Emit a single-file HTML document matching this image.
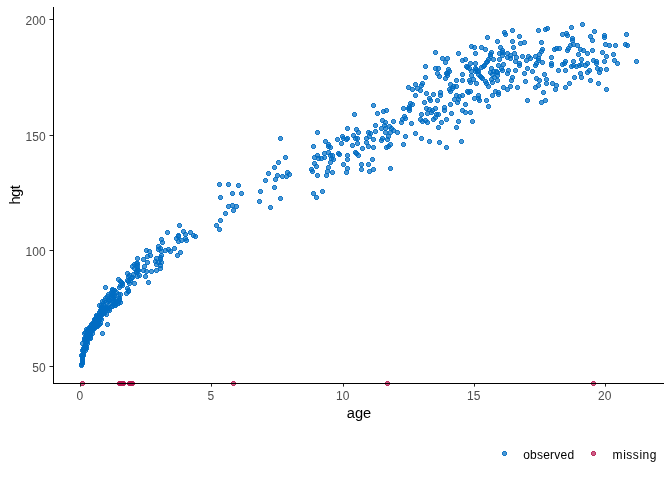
<!DOCTYPE html>
<html><head><meta charset="utf-8"><title>ggmice scatter</title>
<style>
html,body{margin:0;padding:0;background:#fff;}
svg{display:block;font-family:"Liberation Sans",sans-serif;}
.tk text{font-size:12px;fill:#4d4d4d;}
.ti{font-size:14.67px;fill:#000;}
.lg{font-size:12px;fill:#000;}
.ob circle{fill:#006CC2;fill-opacity:.7;stroke:#006CC2;stroke-opacity:.91;stroke-width:1;}
.mi circle{fill:#B61A51;fill-opacity:.7;stroke:#B61A51;stroke-opacity:.91;stroke-width:1;}
</style></head><body>
<svg width="672" height="480" viewBox="0 0 672 480">
<rect width="672" height="480" fill="#fff"/>
<g class="ob" shape-rendering="crispEdges"><circle cx="105.5" cy="287.5" r="1.95"/><circle cx="118.5" cy="279.5" r="1.95"/><circle cx="121.5" cy="282.5" r="1.95"/><circle cx="119.5" cy="287.5" r="1.95"/><circle cx="122.5" cy="285.5" r="1.95"/><circle cx="112.5" cy="289.5" r="1.95"/><circle cx="113.5" cy="292.5" r="1.95"/><circle cx="108.5" cy="294.5" r="1.95"/><circle cx="120.5" cy="294.5" r="1.95"/><circle cx="114.5" cy="296.5" r="1.95"/><circle cx="111.5" cy="298.5" r="1.95"/><circle cx="104.5" cy="300.5" r="1.95"/><circle cx="108.5" cy="301.5" r="1.95"/><circle cx="113.5" cy="301.5" r="1.95"/><circle cx="117.5" cy="303.5" r="1.95"/><circle cx="120.5" cy="302.5" r="1.95"/><circle cx="99.5" cy="305.5" r="1.95"/><circle cx="103.5" cy="305.5" r="1.95"/><circle cx="111.5" cy="306.5" r="1.95"/><circle cx="114.5" cy="305.5" r="1.95"/><circle cx="101.5" cy="308.5" r="1.95"/><circle cx="105.5" cy="308.5" r="1.95"/><circle cx="109.5" cy="308.5" r="1.95"/><circle cx="126.5" cy="293.5" r="1.95"/><circle cx="127.5" cy="288.5" r="1.95"/><circle cx="128.5" cy="291.5" r="1.95"/><circle cx="134.5" cy="283.5" r="1.95"/><circle cx="129.5" cy="283.5" r="1.95"/><circle cx="127.5" cy="280.5" r="1.95"/><circle cx="127.5" cy="273.5" r="1.95"/><circle cx="129.5" cy="275.5" r="1.95"/><circle cx="131.5" cy="278.5" r="1.95"/><circle cx="133.5" cy="274.5" r="1.95"/><circle cx="136.5" cy="272.5" r="1.95"/><circle cx="137.5" cy="276.5" r="1.95"/><circle cx="139.5" cy="275.5" r="1.95"/><circle cx="132.5" cy="266.5" r="1.95"/><circle cx="136.5" cy="263.5" r="1.95"/><circle cx="137.5" cy="265.5" r="1.95"/><circle cx="134.5" cy="268.5" r="1.95"/><circle cx="137.5" cy="270.5" r="1.95"/><circle cx="137.5" cy="258.5" r="1.95"/><circle cx="143.5" cy="259.5" r="1.95"/><circle cx="147.5" cy="256.5" r="1.95"/><circle cx="147.5" cy="262.5" r="1.95"/><circle cx="150.5" cy="255.5" r="1.95"/><circle cx="144.5" cy="266.5" r="1.95"/><circle cx="143.5" cy="270.5" r="1.95"/><circle cx="146.5" cy="271.5" r="1.95"/><circle cx="151.5" cy="271.5" r="1.95"/><circle cx="156.5" cy="270.5" r="1.95"/><circle cx="145.5" cy="276.5" r="1.95"/><circle cx="148.5" cy="282.5" r="1.95"/><circle cx="156.5" cy="258.5" r="1.95"/><circle cx="155.5" cy="261.5" r="1.95"/><circle cx="158.5" cy="262.5" r="1.95"/><circle cx="160.5" cy="265.5" r="1.95"/><circle cx="160.5" cy="268.5" r="1.95"/><circle cx="156.5" cy="264.5" r="1.95"/><circle cx="161.5" cy="255.5" r="1.95"/><circle cx="161.5" cy="251.5" r="1.95"/><circle cx="149.5" cy="251.5" r="1.95"/><circle cx="146.5" cy="250.5" r="1.95"/><circle cx="177.5" cy="255.5" r="1.95"/><circle cx="179.5" cy="225.5" r="1.95"/><circle cx="167.5" cy="232.5" r="1.95"/><circle cx="183.5" cy="231.5" r="1.95"/><circle cx="185.5" cy="234.5" r="1.95"/><circle cx="178.5" cy="235.5" r="1.95"/><circle cx="176.5" cy="238.5" r="1.95"/><circle cx="178.5" cy="241.5" r="1.95"/><circle cx="181.5" cy="240.5" r="1.95"/><circle cx="185.5" cy="238.5" r="1.95"/><circle cx="186.5" cy="240.5" r="1.95"/><circle cx="190.5" cy="232.5" r="1.95"/><circle cx="193.5" cy="235.5" r="1.95"/><circle cx="195.5" cy="236.5" r="1.95"/><circle cx="161.5" cy="239.5" r="1.95"/><circle cx="162.5" cy="242.5" r="1.95"/><circle cx="158.5" cy="246.5" r="1.95"/><circle cx="158.5" cy="249.5" r="1.95"/><circle cx="160.5" cy="248.5" r="1.95"/><circle cx="165.5" cy="250.5" r="1.95"/><circle cx="168.5" cy="249.5" r="1.95"/><circle cx="170.5" cy="251.5" r="1.95"/><circle cx="174.5" cy="248.5" r="1.95"/><circle cx="180.5" cy="252.5" r="1.95"/><circle cx="160.5" cy="257.5" r="1.95"/><circle cx="216.5" cy="225.5" r="1.95"/><circle cx="219.5" cy="229.5" r="1.95"/><circle cx="220.5" cy="220.5" r="1.95"/><circle cx="225.5" cy="213.5" r="1.95"/><circle cx="228.5" cy="206.5" r="1.95"/><circle cx="232.5" cy="205.5" r="1.95"/><circle cx="236.5" cy="206.5" r="1.95"/><circle cx="233.5" cy="210.5" r="1.95"/><circle cx="219.5" cy="184.5" r="1.95"/><circle cx="228.5" cy="184.5" r="1.95"/><circle cx="238.5" cy="185.5" r="1.95"/><circle cx="232.5" cy="193.5" r="1.95"/><circle cx="241.5" cy="193.5" r="1.95"/><circle cx="220.5" cy="197.5" r="1.95"/><circle cx="260.5" cy="191.5" r="1.95"/><circle cx="259.5" cy="201.5" r="1.95"/><circle cx="265.5" cy="180.5" r="1.95"/><circle cx="268.5" cy="173.5" r="1.95"/><circle cx="274.5" cy="167.5" r="1.95"/><circle cx="278.5" cy="162.5" r="1.95"/><circle cx="285.5" cy="157.5" r="1.95"/><circle cx="275.5" cy="179.5" r="1.95"/><circle cx="277.5" cy="175.5" r="1.95"/><circle cx="282.5" cy="176.5" r="1.95"/><circle cx="286.5" cy="176.5" r="1.95"/><circle cx="287.5" cy="172.5" r="1.95"/><circle cx="289.5" cy="174.5" r="1.95"/><circle cx="274.5" cy="187.5" r="1.95"/><circle cx="280.5" cy="198.5" r="1.95"/><circle cx="270.5" cy="207.5" r="1.95"/><circle cx="354.5" cy="114.5" r="1.95"/><circle cx="317.5" cy="132.5" r="1.95"/><circle cx="347.5" cy="128.5" r="1.95"/><circle cx="356.5" cy="129.5" r="1.95"/><circle cx="358.5" cy="132.5" r="1.95"/><circle cx="353.5" cy="135.5" r="1.95"/><circle cx="355.5" cy="138.5" r="1.95"/><circle cx="357.5" cy="138.5" r="1.95"/><circle cx="357.5" cy="143.5" r="1.95"/><circle cx="352.5" cy="145.5" r="1.95"/><circle cx="342.5" cy="136.5" r="1.95"/><circle cx="343.5" cy="138.5" r="1.95"/><circle cx="346.5" cy="139.5" r="1.95"/><circle cx="347.5" cy="138.5" r="1.95"/><circle cx="337.5" cy="139.5" r="1.95"/><circle cx="341.5" cy="143.5" r="1.95"/><circle cx="325.5" cy="141.5" r="1.95"/><circle cx="328.5" cy="144.5" r="1.95"/><circle cx="328.5" cy="146.5" r="1.95"/><circle cx="330.5" cy="147.5" r="1.95"/><circle cx="313.5" cy="146.5" r="1.95"/><circle cx="324.5" cy="153.5" r="1.95"/><circle cx="328.5" cy="152.5" r="1.95"/><circle cx="317.5" cy="155.5" r="1.95"/><circle cx="314.5" cy="157.5" r="1.95"/><circle cx="318.5" cy="158.5" r="1.95"/><circle cx="321.5" cy="158.5" r="1.95"/><circle cx="324.5" cy="157.5" r="1.95"/><circle cx="330.5" cy="155.5" r="1.95"/><circle cx="332.5" cy="155.5" r="1.95"/><circle cx="331.5" cy="158.5" r="1.95"/><circle cx="333.5" cy="159.5" r="1.95"/><circle cx="330.5" cy="162.5" r="1.95"/><circle cx="314.5" cy="163.5" r="1.95"/><circle cx="316.5" cy="166.5" r="1.95"/><circle cx="328.5" cy="167.5" r="1.95"/><circle cx="338.5" cy="153.5" r="1.95"/><circle cx="339.5" cy="154.5" r="1.95"/><circle cx="347.5" cy="155.5" r="1.95"/><circle cx="347.5" cy="159.5" r="1.95"/><circle cx="343.5" cy="164.5" r="1.95"/><circle cx="347.5" cy="168.5" r="1.95"/><circle cx="355.5" cy="152.5" r="1.95"/><circle cx="356.5" cy="153.5" r="1.95"/><circle cx="358.5" cy="155.5" r="1.95"/><circle cx="362.5" cy="148.5" r="1.95"/><circle cx="361.5" cy="164.5" r="1.95"/><circle cx="361.5" cy="169.5" r="1.95"/><circle cx="366.5" cy="138.5" r="1.95"/><circle cx="366.5" cy="142.5" r="1.95"/><circle cx="368.5" cy="146.5" r="1.95"/><circle cx="311.5" cy="169.5" r="1.95"/><circle cx="312.5" cy="171.5" r="1.95"/><circle cx="317.5" cy="175.5" r="1.95"/><circle cx="327.5" cy="171.5" r="1.95"/><circle cx="332.5" cy="172.5" r="1.95"/><circle cx="326.5" cy="175.5" r="1.95"/><circle cx="346.5" cy="172.5" r="1.95"/><circle cx="313.5" cy="193.5" r="1.95"/><circle cx="316.5" cy="197.5" r="1.95"/><circle cx="322.5" cy="191.5" r="1.95"/><circle cx="375.5" cy="125.5" r="1.95"/><circle cx="375.5" cy="131.5" r="1.95"/><circle cx="368.5" cy="132.5" r="1.95"/><circle cx="370.5" cy="133.5" r="1.95"/><circle cx="369.5" cy="136.5" r="1.95"/><circle cx="373.5" cy="139.5" r="1.95"/><circle cx="373.5" cy="147.5" r="1.95"/><circle cx="372.5" cy="159.5" r="1.95"/><circle cx="368.5" cy="164.5" r="1.95"/><circle cx="369.5" cy="171.5" r="1.95"/><circle cx="373.5" cy="169.5" r="1.95"/><circle cx="390.5" cy="168.5" r="1.95"/><circle cx="382.5" cy="120.5" r="1.95"/><circle cx="385.5" cy="122.5" r="1.95"/><circle cx="384.5" cy="125.5" r="1.95"/><circle cx="381.5" cy="128.5" r="1.95"/><circle cx="385.5" cy="128.5" r="1.95"/><circle cx="389.5" cy="126.5" r="1.95"/><circle cx="391.5" cy="128.5" r="1.95"/><circle cx="393.5" cy="130.5" r="1.95"/><circle cx="385.5" cy="132.5" r="1.95"/><circle cx="390.5" cy="132.5" r="1.95"/><circle cx="388.5" cy="136.5" r="1.95"/><circle cx="382.5" cy="138.5" r="1.95"/><circle cx="381.5" cy="140.5" r="1.95"/><circle cx="387.5" cy="139.5" r="1.95"/><circle cx="390.5" cy="144.5" r="1.95"/><circle cx="386.5" cy="147.5" r="1.95"/><circle cx="388.5" cy="146.5" r="1.95"/><circle cx="393.5" cy="121.5" r="1.95"/><circle cx="397.5" cy="132.5" r="1.95"/><circle cx="401.5" cy="122.5" r="1.95"/><circle cx="405.5" cy="136.5" r="1.95"/><circle cx="403.5" cy="144.5" r="1.95"/><circle cx="411.5" cy="123.5" r="1.95"/><circle cx="415.5" cy="133.5" r="1.95"/><circle cx="421.5" cy="138.5" r="1.95"/><circle cx="429.5" cy="141.5" r="1.95"/><circle cx="439.5" cy="142.5" r="1.95"/><circle cx="438.5" cy="127.5" r="1.95"/><circle cx="427.5" cy="122.5" r="1.95"/><circle cx="441.5" cy="122.5" r="1.95"/><circle cx="373.5" cy="105.5" r="1.95"/><circle cx="377.5" cy="113.5" r="1.95"/><circle cx="383.5" cy="111.5" r="1.95"/><circle cx="386.5" cy="110.5" r="1.95"/><circle cx="403.5" cy="108.5" r="1.95"/><circle cx="408.5" cy="108.5" r="1.95"/><circle cx="409.5" cy="110.5" r="1.95"/><circle cx="410.5" cy="103.5" r="1.95"/><circle cx="412.5" cy="104.5" r="1.95"/><circle cx="404.5" cy="116.5" r="1.95"/><circle cx="405.5" cy="118.5" r="1.95"/><circle cx="402.5" cy="119.5" r="1.95"/><circle cx="408.5" cy="87.5" r="1.95"/><circle cx="412.5" cy="89.5" r="1.95"/><circle cx="415.5" cy="84.5" r="1.95"/><circle cx="417.5" cy="88.5" r="1.95"/><circle cx="420.5" cy="90.5" r="1.95"/><circle cx="421.5" cy="85.5" r="1.95"/><circle cx="422.5" cy="83.5" r="1.95"/><circle cx="415.5" cy="95.5" r="1.95"/><circle cx="425.5" cy="77.5" r="1.95"/><circle cx="425.5" cy="66.5" r="1.95"/><circle cx="435.5" cy="68.5" r="1.95"/><circle cx="438.5" cy="68.5" r="1.95"/><circle cx="437.5" cy="73.5" r="1.95"/><circle cx="439.5" cy="76.5" r="1.95"/><circle cx="426.5" cy="93.5" r="1.95"/><circle cx="433.5" cy="94.5" r="1.95"/><circle cx="440.5" cy="92.5" r="1.95"/><circle cx="440.5" cy="95.5" r="1.95"/><circle cx="429.5" cy="98.5" r="1.95"/><circle cx="430.5" cy="100.5" r="1.95"/><circle cx="424.5" cy="102.5" r="1.95"/><circle cx="437.5" cy="100.5" r="1.95"/><circle cx="426.5" cy="108.5" r="1.95"/><circle cx="429.5" cy="109.5" r="1.95"/><circle cx="432.5" cy="110.5" r="1.95"/><circle cx="435.5" cy="108.5" r="1.95"/><circle cx="427.5" cy="113.5" r="1.95"/><circle cx="431.5" cy="112.5" r="1.95"/><circle cx="421.5" cy="114.5" r="1.95"/><circle cx="436.5" cy="114.5" r="1.95"/><circle cx="438.5" cy="114.5" r="1.95"/><circle cx="435.5" cy="117.5" r="1.95"/><circle cx="433.5" cy="119.5" r="1.95"/><circle cx="420.5" cy="119.5" r="1.95"/><circle cx="422.5" cy="121.5" r="1.95"/><circle cx="425.5" cy="120.5" r="1.95"/><circle cx="446.5" cy="73.5" r="1.95"/><circle cx="449.5" cy="71.5" r="1.95"/><circle cx="447.5" cy="75.5" r="1.95"/><circle cx="445.5" cy="78.5" r="1.95"/><circle cx="462.5" cy="74.5" r="1.95"/><circle cx="456.5" cy="80.5" r="1.95"/><circle cx="462.5" cy="80.5" r="1.95"/><circle cx="450.5" cy="84.5" r="1.95"/><circle cx="453.5" cy="86.5" r="1.95"/><circle cx="456.5" cy="86.5" r="1.95"/><circle cx="449.5" cy="89.5" r="1.95"/><circle cx="452.5" cy="88.5" r="1.95"/><circle cx="450.5" cy="91.5" r="1.95"/><circle cx="456.5" cy="95.5" r="1.95"/><circle cx="459.5" cy="96.5" r="1.95"/><circle cx="462.5" cy="95.5" r="1.95"/><circle cx="454.5" cy="99.5" r="1.95"/><circle cx="458.5" cy="99.5" r="1.95"/><circle cx="457.5" cy="102.5" r="1.95"/><circle cx="450.5" cy="104.5" r="1.95"/><circle cx="444.5" cy="107.5" r="1.95"/><circle cx="444.5" cy="110.5" r="1.95"/><circle cx="465.5" cy="104.5" r="1.95"/><circle cx="462.5" cy="110.5" r="1.95"/><circle cx="465.5" cy="112.5" r="1.95"/><circle cx="470.5" cy="112.5" r="1.95"/><circle cx="451.5" cy="113.5" r="1.95"/><circle cx="446.5" cy="119.5" r="1.95"/><circle cx="458.5" cy="121.5" r="1.95"/><circle cx="456.5" cy="127.5" r="1.95"/><circle cx="472.5" cy="121.5" r="1.95"/><circle cx="467.5" cy="91.5" r="1.95"/><circle cx="470.5" cy="91.5" r="1.95"/><circle cx="474.5" cy="98.5" r="1.95"/><circle cx="478.5" cy="95.5" r="1.95"/><circle cx="478.5" cy="98.5" r="1.95"/><circle cx="479.5" cy="100.5" r="1.95"/><circle cx="486.5" cy="100.5" r="1.95"/><circle cx="488.5" cy="106.5" r="1.95"/><circle cx="492.5" cy="95.5" r="1.95"/><circle cx="495.5" cy="91.5" r="1.95"/><circle cx="498.5" cy="92.5" r="1.95"/><circle cx="498.5" cy="94.5" r="1.95"/><circle cx="503.5" cy="87.5" r="1.95"/><circle cx="507.5" cy="89.5" r="1.95"/><circle cx="510.5" cy="86.5" r="1.95"/><circle cx="517.5" cy="87.5" r="1.95"/><circle cx="511.5" cy="80.5" r="1.95"/><circle cx="512.5" cy="77.5" r="1.95"/><circle cx="507.5" cy="73.5" r="1.95"/><circle cx="502.5" cy="70.5" r="1.95"/><circle cx="515.5" cy="70.5" r="1.95"/><circle cx="497.5" cy="80.5" r="1.95"/><circle cx="492.5" cy="82.5" r="1.95"/><circle cx="491.5" cy="79.5" r="1.95"/><circle cx="494.5" cy="77.5" r="1.95"/><circle cx="497.5" cy="75.5" r="1.95"/><circle cx="492.5" cy="74.5" r="1.95"/><circle cx="490.5" cy="72.5" r="1.95"/><circle cx="493.5" cy="71.5" r="1.95"/><circle cx="497.5" cy="72.5" r="1.95"/><circle cx="469.5" cy="80.5" r="1.95"/><circle cx="470.5" cy="82.5" r="1.95"/><circle cx="473.5" cy="79.5" r="1.95"/><circle cx="476.5" cy="83.5" r="1.95"/><circle cx="471.5" cy="75.5" r="1.95"/><circle cx="471.5" cy="71.5" r="1.95"/><circle cx="475.5" cy="71.5" r="1.95"/><circle cx="478.5" cy="74.5" r="1.95"/><circle cx="480.5" cy="76.5" r="1.95"/><circle cx="482.5" cy="78.5" r="1.95"/><circle cx="485.5" cy="81.5" r="1.95"/><circle cx="486.5" cy="83.5" r="1.95"/><circle cx="488.5" cy="86.5" r="1.95"/><circle cx="478.5" cy="71.5" r="1.95"/><circle cx="435.5" cy="52.5" r="1.95"/><circle cx="442.5" cy="58.5" r="1.95"/><circle cx="447.5" cy="58.5" r="1.95"/><circle cx="445.5" cy="62.5" r="1.95"/><circle cx="458.5" cy="53.5" r="1.95"/><circle cx="448.5" cy="69.5" r="1.95"/><circle cx="462.5" cy="60.5" r="1.95"/><circle cx="465.5" cy="59.5" r="1.95"/><circle cx="471.5" cy="46.5" r="1.95"/><circle cx="474.5" cy="47.5" r="1.95"/><circle cx="475.5" cy="53.5" r="1.95"/><circle cx="481.5" cy="47.5" r="1.95"/><circle cx="485.5" cy="49.5" r="1.95"/><circle cx="487.5" cy="37.5" r="1.95"/><circle cx="491.5" cy="52.5" r="1.95"/><circle cx="490.5" cy="56.5" r="1.95"/><circle cx="493.5" cy="59.5" r="1.95"/><circle cx="488.5" cy="59.5" r="1.95"/><circle cx="486.5" cy="62.5" r="1.95"/><circle cx="484.5" cy="65.5" r="1.95"/><circle cx="481.5" cy="67.5" r="1.95"/><circle cx="470.5" cy="63.5" r="1.95"/><circle cx="475.5" cy="63.5" r="1.95"/><circle cx="466.5" cy="66.5" r="1.95"/><circle cx="469.5" cy="68.5" r="1.95"/><circle cx="475.5" cy="68.5" r="1.95"/><circle cx="477.5" cy="71.5" r="1.95"/><circle cx="491.5" cy="68.5" r="1.95"/><circle cx="496.5" cy="71.5" r="1.95"/><circle cx="497.5" cy="41.5" r="1.95"/><circle cx="500.5" cy="47.5" r="1.95"/><circle cx="502.5" cy="50.5" r="1.95"/><circle cx="499.5" cy="53.5" r="1.95"/><circle cx="502.5" cy="55.5" r="1.95"/><circle cx="499.5" cy="59.5" r="1.95"/><circle cx="498.5" cy="65.5" r="1.95"/><circle cx="503.5" cy="64.5" r="1.95"/><circle cx="501.5" cy="68.5" r="1.95"/><circle cx="508.5" cy="70.5" r="1.95"/><circle cx="504.5" cy="32.5" r="1.95"/><circle cx="505.5" cy="34.5" r="1.95"/><circle cx="512.5" cy="30.5" r="1.95"/><circle cx="512.5" cy="41.5" r="1.95"/><circle cx="513.5" cy="47.5" r="1.95"/><circle cx="507.5" cy="53.5" r="1.95"/><circle cx="507.5" cy="57.5" r="1.95"/><circle cx="510.5" cy="55.5" r="1.95"/><circle cx="510.5" cy="58.5" r="1.95"/><circle cx="514.5" cy="53.5" r="1.95"/><circle cx="516.5" cy="57.5" r="1.95"/><circle cx="515.5" cy="61.5" r="1.95"/><circle cx="446.5" cy="147.5" r="1.95"/><circle cx="461.5" cy="141.5" r="1.95"/><circle cx="519.5" cy="36.5" r="1.95"/><circle cx="520.5" cy="43.5" r="1.95"/><circle cx="524.5" cy="42.5" r="1.95"/><circle cx="519.5" cy="63.5" r="1.95"/><circle cx="519.5" cy="65.5" r="1.95"/><circle cx="522.5" cy="56.5" r="1.95"/><circle cx="528.5" cy="56.5" r="1.95"/><circle cx="530.5" cy="58.5" r="1.95"/><circle cx="526.5" cy="60.5" r="1.95"/><circle cx="527.5" cy="68.5" r="1.95"/><circle cx="538.5" cy="30.5" r="1.95"/><circle cx="545.5" cy="29.5" r="1.95"/><circle cx="547.5" cy="28.5" r="1.95"/><circle cx="541.5" cy="42.5" r="1.95"/><circle cx="542.5" cy="49.5" r="1.95"/><circle cx="541.5" cy="51.5" r="1.95"/><circle cx="539.5" cy="54.5" r="1.95"/><circle cx="535.5" cy="56.5" r="1.95"/><circle cx="538.5" cy="58.5" r="1.95"/><circle cx="538.5" cy="60.5" r="1.95"/><circle cx="542.5" cy="62.5" r="1.95"/><circle cx="536.5" cy="63.5" r="1.95"/><circle cx="535.5" cy="65.5" r="1.95"/><circle cx="551.5" cy="57.5" r="1.95"/><circle cx="551.5" cy="63.5" r="1.95"/><circle cx="551.5" cy="65.5" r="1.95"/><circle cx="554.5" cy="49.5" r="1.95"/><circle cx="556.5" cy="48.5" r="1.95"/><circle cx="559.5" cy="48.5" r="1.95"/><circle cx="562.5" cy="34.5" r="1.95"/><circle cx="566.5" cy="33.5" r="1.95"/><circle cx="567.5" cy="35.5" r="1.95"/><circle cx="571.5" cy="27.5" r="1.95"/><circle cx="582.5" cy="24.5" r="1.95"/><circle cx="572.5" cy="38.5" r="1.95"/><circle cx="572.5" cy="40.5" r="1.95"/><circle cx="573.5" cy="44.5" r="1.95"/><circle cx="570.5" cy="45.5" r="1.95"/><circle cx="568.5" cy="48.5" r="1.95"/><circle cx="567.5" cy="50.5" r="1.95"/><circle cx="577.5" cy="45.5" r="1.95"/><circle cx="580.5" cy="49.5" r="1.95"/><circle cx="583.5" cy="50.5" r="1.95"/><circle cx="578.5" cy="54.5" r="1.95"/><circle cx="587.5" cy="53.5" r="1.95"/><circle cx="581.5" cy="59.5" r="1.95"/><circle cx="581.5" cy="64.5" r="1.95"/><circle cx="587.5" cy="63.5" r="1.95"/><circle cx="585.5" cy="65.5" r="1.95"/><circle cx="573.5" cy="61.5" r="1.95"/><circle cx="573.5" cy="65.5" r="1.95"/><circle cx="571.5" cy="66.5" r="1.95"/><circle cx="576.5" cy="66.5" r="1.95"/><circle cx="579.5" cy="65.5" r="1.95"/><circle cx="565.5" cy="61.5" r="1.95"/><circle cx="562.5" cy="64.5" r="1.95"/><circle cx="564.5" cy="63.5" r="1.95"/><circle cx="590.5" cy="36.5" r="1.95"/><circle cx="592.5" cy="40.5" r="1.95"/><circle cx="594.5" cy="31.5" r="1.95"/><circle cx="592.5" cy="50.5" r="1.95"/><circle cx="593.5" cy="60.5" r="1.95"/><circle cx="532.5" cy="71.5" r="1.95"/><circle cx="524.5" cy="73.5" r="1.95"/><circle cx="525.5" cy="81.5" r="1.95"/><circle cx="536.5" cy="78.5" r="1.95"/><circle cx="539.5" cy="80.5" r="1.95"/><circle cx="544.5" cy="74.5" r="1.95"/><circle cx="546.5" cy="79.5" r="1.95"/><circle cx="546.5" cy="83.5" r="1.95"/><circle cx="538.5" cy="85.5" r="1.95"/><circle cx="535.5" cy="87.5" r="1.95"/><circle cx="543.5" cy="92.5" r="1.95"/><circle cx="527.5" cy="100.5" r="1.95"/><circle cx="545.5" cy="100.5" r="1.95"/><circle cx="541.5" cy="102.5" r="1.95"/><circle cx="552.5" cy="83.5" r="1.95"/><circle cx="556.5" cy="85.5" r="1.95"/><circle cx="555.5" cy="89.5" r="1.95"/><circle cx="565.5" cy="87.5" r="1.95"/><circle cx="569.5" cy="83.5" r="1.95"/><circle cx="574.5" cy="77.5" r="1.95"/><circle cx="580.5" cy="73.5" r="1.95"/><circle cx="581.5" cy="77.5" r="1.95"/><circle cx="590.5" cy="80.5" r="1.95"/><circle cx="587.5" cy="72.5" r="1.95"/><circle cx="604.5" cy="35.5" r="1.95"/><circle cx="604.5" cy="37.5" r="1.95"/><circle cx="626.5" cy="34.5" r="1.95"/><circle cx="605.5" cy="44.5" r="1.95"/><circle cx="609.5" cy="45.5" r="1.95"/><circle cx="615.5" cy="45.5" r="1.95"/><circle cx="625.5" cy="44.5" r="1.95"/><circle cx="627.5" cy="45.5" r="1.95"/><circle cx="602.5" cy="52.5" r="1.95"/><circle cx="606.5" cy="56.5" r="1.95"/><circle cx="613.5" cy="54.5" r="1.95"/><circle cx="604.5" cy="61.5" r="1.95"/><circle cx="596.5" cy="61.5" r="1.95"/><circle cx="596.5" cy="63.5" r="1.95"/><circle cx="614.5" cy="60.5" r="1.95"/><circle cx="617.5" cy="63.5" r="1.95"/><circle cx="636.5" cy="61.5" r="1.95"/><circle cx="597.5" cy="68.5" r="1.95"/><circle cx="600.5" cy="69.5" r="1.95"/><circle cx="606.5" cy="69.5" r="1.95"/><circle cx="599.5" cy="72.5" r="1.95"/><circle cx="598.5" cy="83.5" r="1.95"/><circle cx="606.5" cy="89.5" r="1.95"/><circle cx="107.5" cy="324.5" r="1.95"/><circle cx="102.5" cy="333.5" r="1.95"/><circle cx="81.5" cy="365.5" r="1.95"/><circle cx="120.5" cy="281.5" r="1.95"/><circle cx="120.5" cy="285.5" r="1.95"/><circle cx="128.5" cy="281.5" r="1.95"/><circle cx="128.5" cy="290.5" r="1.95"/><circle cx="128.5" cy="276.5" r="1.95"/><circle cx="130.5" cy="280.5" r="1.95"/><circle cx="132.5" cy="277.5" r="1.95"/><circle cx="134.5" cy="264.5" r="1.95"/><circle cx="137.5" cy="263.5" r="1.95"/><circle cx="137.5" cy="268.5" r="1.95"/><circle cx="138.5" cy="270.5" r="1.95"/><circle cx="136.5" cy="271.5" r="1.95"/><circle cx="122.5" cy="283.5" r="1.95"/><circle cx="483.5" cy="66.5" r="1.95"/><circle cx="487.5" cy="61.5" r="1.95"/><circle cx="490.5" cy="54.5" r="1.95"/><circle cx="467.5" cy="67.5" r="1.95"/><circle cx="476.5" cy="69.5" r="1.95"/><circle cx="481.5" cy="77.5" r="1.95"/><circle cx="502.5" cy="52.5" r="1.95"/><circle cx="447.5" cy="73.5" r="1.95"/><circle cx="178.5" cy="236.5" r="1.95"/><circle cx="468.5" cy="92.5" r="1.95"/><circle cx="409.5" cy="106.5" r="1.95"/><circle cx="409.5" cy="108.5" r="1.95"/><circle cx="280.5" cy="138.5" r="1.95"/><circle cx="558.5" cy="70.5" r="1.95"/><circle cx="565.5" cy="70.5" r="1.95"/><circle cx="589.5" cy="70.5" r="1.95"/><circle cx="160.5" cy="259.5" r="1.95"/><circle cx="161.5" cy="262.5" r="1.95"/><circle cx="114.5" cy="290.5" r="1.95"/><circle cx="116.5" cy="292.5" r="1.95"/><circle cx="111.5" cy="292.5" r="1.95"/><circle cx="112.5" cy="293.5" r="1.95"/><circle cx="118.5" cy="294.5" r="1.95"/><circle cx="112.5" cy="294.5" r="1.95"/><circle cx="111.5" cy="295.5" r="1.95"/><circle cx="112.5" cy="295.5" r="1.95"/><circle cx="113.5" cy="296.5" r="1.95"/><circle cx="107.5" cy="296.5" r="1.95"/><circle cx="113.5" cy="298.5" r="1.95"/><circle cx="108.5" cy="299.5" r="1.95"/><circle cx="119.5" cy="299.5" r="1.95"/><circle cx="115.5" cy="299.5" r="1.95"/><circle cx="109.5" cy="300.5" r="1.95"/><circle cx="119.5" cy="300.5" r="1.95"/><circle cx="114.5" cy="301.5" r="1.95"/><circle cx="117.5" cy="301.5" r="1.95"/><circle cx="102.5" cy="301.5" r="1.95"/><circle cx="115.5" cy="302.5" r="1.95"/><circle cx="106.5" cy="302.5" r="1.95"/><circle cx="110.5" cy="303.5" r="1.95"/><circle cx="103.5" cy="303.5" r="1.95"/><circle cx="118.5" cy="303.5" r="1.95"/><circle cx="113.5" cy="304.5" r="1.95"/><circle cx="101.5" cy="305.5" r="1.95"/><circle cx="112.5" cy="306.5" r="1.95"/><circle cx="106.5" cy="307.5" r="1.95"/><circle cx="101.5" cy="307.5" r="1.95"/><circle cx="107.5" cy="307.5" r="1.95"/><circle cx="102.5" cy="308.5" r="1.95"/><circle cx="106.5" cy="308.5" r="1.95"/><circle cx="104.5" cy="309.5" r="1.95"/><circle cx="106.5" cy="309.5" r="1.95"/><circle cx="101.5" cy="310.5" r="1.95"/><circle cx="102.5" cy="310.5" r="1.95"/><circle cx="107.5" cy="310.5" r="1.95"/><circle cx="101.5" cy="311.5" r="1.95"/><circle cx="103.5" cy="312.5" r="1.95"/><circle cx="99.5" cy="312.5" r="1.95"/><circle cx="102.5" cy="312.5" r="1.95"/><circle cx="99.5" cy="313.5" r="1.95"/><circle cx="103.5" cy="313.5" r="1.95"/><circle cx="104.5" cy="313.5" r="1.95"/><circle cx="102.5" cy="314.5" r="1.95"/><circle cx="100.5" cy="314.5" r="1.95"/><circle cx="96.5" cy="315.5" r="1.95"/><circle cx="99.5" cy="315.5" r="1.95"/><circle cx="100.5" cy="316.5" r="1.95"/><circle cx="96.5" cy="316.5" r="1.95"/><circle cx="99.5" cy="317.5" r="1.95"/><circle cx="96.5" cy="317.5" r="1.95"/><circle cx="97.5" cy="318.5" r="1.95"/><circle cx="100.5" cy="318.5" r="1.95"/><circle cx="96.5" cy="319.5" r="1.95"/><circle cx="95.5" cy="319.5" r="1.95"/><circle cx="99.5" cy="319.5" r="1.95"/><circle cx="98.5" cy="320.5" r="1.95"/><circle cx="94.5" cy="320.5" r="1.95"/><circle cx="96.5" cy="321.5" r="1.95"/><circle cx="95.5" cy="322.5" r="1.95"/><circle cx="98.5" cy="322.5" r="1.95"/><circle cx="93.5" cy="322.5" r="1.95"/><circle cx="94.5" cy="323.5" r="1.95"/><circle cx="100.5" cy="323.5" r="1.95"/><circle cx="95.5" cy="324.5" r="1.95"/><circle cx="97.5" cy="324.5" r="1.95"/><circle cx="96.5" cy="325.5" r="1.95"/><circle cx="94.5" cy="325.5" r="1.95"/><circle cx="97.5" cy="325.5" r="1.95"/><circle cx="91.5" cy="325.5" r="1.95"/><circle cx="97.5" cy="326.5" r="1.95"/><circle cx="90.5" cy="326.5" r="1.95"/><circle cx="95.5" cy="327.5" r="1.95"/><circle cx="92.5" cy="327.5" r="1.95"/><circle cx="94.5" cy="327.5" r="1.95"/><circle cx="91.5" cy="328.5" r="1.95"/><circle cx="93.5" cy="328.5" r="1.95"/><circle cx="88.5" cy="328.5" r="1.95"/><circle cx="89.5" cy="329.5" r="1.95"/><circle cx="92.5" cy="329.5" r="1.95"/><circle cx="87.5" cy="330.5" r="1.95"/><circle cx="91.5" cy="331.5" r="1.95"/><circle cx="87.5" cy="331.5" r="1.95"/><circle cx="85.5" cy="332.5" r="1.95"/><circle cx="90.5" cy="332.5" r="1.95"/><circle cx="87.5" cy="332.5" r="1.95"/><circle cx="88.5" cy="333.5" r="1.95"/><circle cx="86.5" cy="334.5" r="1.95"/><circle cx="90.5" cy="334.5" r="1.95"/><circle cx="89.5" cy="335.5" r="1.95"/><circle cx="90.5" cy="335.5" r="1.95"/><circle cx="86.5" cy="336.5" r="1.95"/><circle cx="90.5" cy="337.5" r="1.95"/><circle cx="87.5" cy="337.5" r="1.95"/><circle cx="84.5" cy="338.5" r="1.95"/><circle cx="88.5" cy="339.5" r="1.95"/><circle cx="84.5" cy="339.5" r="1.95"/><circle cx="86.5" cy="339.5" r="1.95"/><circle cx="84.5" cy="340.5" r="1.95"/><circle cx="86.5" cy="341.5" r="1.95"/><circle cx="86.5" cy="342.5" r="1.95"/><circle cx="87.5" cy="343.5" r="1.95"/><circle cx="82.5" cy="343.5" r="1.95"/><circle cx="85.5" cy="344.5" r="1.95"/><circle cx="85.5" cy="345.5" r="1.95"/><circle cx="86.5" cy="346.5" r="1.95"/><circle cx="84.5" cy="346.5" r="1.95"/><circle cx="85.5" cy="347.5" r="1.95"/><circle cx="86.5" cy="348.5" r="1.95"/><circle cx="83.5" cy="348.5" r="1.95"/><circle cx="84.5" cy="349.5" r="1.95"/><circle cx="83.5" cy="349.5" r="1.95"/><circle cx="82.5" cy="350.5" r="1.95"/><circle cx="83.5" cy="352.5" r="1.95"/><circle cx="83.5" cy="354.5" r="1.95"/><circle cx="82.5" cy="355.5" r="1.95"/><circle cx="82.5" cy="357.5" r="1.95"/><circle cx="82.5" cy="358.5" r="1.95"/><circle cx="82.5" cy="360.5" r="1.95"/><circle cx="82.5" cy="361.5" r="1.95"/><circle cx="82.5" cy="362.5" r="1.95"/><circle cx="82.5" cy="363.5" r="1.95"/><circle cx="81.5" cy="364.5" r="1.95"/><circle cx="81.5" cy="355.5" r="1.95"/><circle cx="83.5" cy="355.5" r="1.95"/><circle cx="85.5" cy="350.5" r="1.95"/><circle cx="90.5" cy="338.5" r="1.95"/><circle cx="84.5" cy="333.5" r="1.95"/><circle cx="92.5" cy="333.5" r="1.95"/><circle cx="86.5" cy="329.5" r="1.95"/><circle cx="93.5" cy="329.5" r="1.95"/><circle cx="91.5" cy="324.5" r="1.95"/><circle cx="99.5" cy="324.5" r="1.95"/><circle cx="94.5" cy="319.5" r="1.95"/><circle cx="101.5" cy="319.5" r="1.95"/><circle cx="106.5" cy="314.5" r="1.95"/><circle cx="100.5" cy="310.5" r="1.95"/><circle cx="109.5" cy="310.5" r="1.95"/><circle cx="115.5" cy="305.5" r="1.95"/><circle cx="105.5" cy="298.5" r="1.95"/><circle cx="119.5" cy="298.5" r="1.95"/><circle cx="112.5" cy="290.5" r="1.95"/><circle cx="114.5" cy="290.5" r="1.95"/></g>
<g class="mi" shape-rendering="crispEdges"><circle cx="82.5" cy="383.5" r="1.95"/><circle cx="119.5" cy="383.5" r="1.95"/><circle cx="120.5" cy="383.5" r="1.95"/><circle cx="121.5" cy="383.5" r="1.95"/><circle cx="122.5" cy="383.5" r="1.95"/><circle cx="123.5" cy="383.5" r="1.95"/><circle cx="129.5" cy="383.5" r="1.95"/><circle cx="130.5" cy="383.5" r="1.95"/><circle cx="131.5" cy="383.5" r="1.95"/><circle cx="132.5" cy="383.5" r="1.95"/><circle cx="233.5" cy="383.5" r="1.95"/><circle cx="387.5" cy="383.5" r="1.95"/><circle cx="593.5" cy="383.5" r="1.95"/></g>
<rect x="53" y="7" width="1" height="377" fill="#000"/>
<rect x="53" y="383" width="611" height="1" fill="#000"/>
<rect x="80" y="384" width="1" height="2.6" fill="#222"/><rect x="211" y="384" width="1" height="2.6" fill="#222"/><rect x="343" y="384" width="1" height="2.6" fill="#222"/><rect x="474" y="384" width="1" height="2.6" fill="#222"/><rect x="605" y="384" width="1" height="2.6" fill="#222"/><rect x="49.5" y="19" width="3.5" height="1" fill="#222"/><rect x="49.5" y="135" width="3.5" height="1" fill="#222"/><rect x="49.5" y="250" width="3.5" height="1" fill="#222"/><rect x="49.5" y="366" width="3.5" height="1" fill="#222"/>
<g class="tk"><text x="79.8" y="399.8" text-anchor="middle">0</text><text x="210.8" y="399.8" text-anchor="middle">5</text><text x="342.8" y="399.8" text-anchor="middle">10</text><text x="473.8" y="399.8" text-anchor="middle">15</text><text x="604.8" y="399.8" text-anchor="middle">20</text><text x="45.6" y="25" text-anchor="end">200</text><text x="45.6" y="141" text-anchor="end">150</text><text x="45.6" y="256" text-anchor="end">100</text><text x="45.6" y="372" text-anchor="end">50</text></g>
<text class="ti" x="359" y="418" text-anchor="middle">age</text>
<text class="ti" transform="translate(20,194.9) rotate(-90)" text-anchor="middle" textLength="19.4" lengthAdjust="spacing">hgt</text>
<g class="ob" shape-rendering="crispEdges"><circle cx="504.5" cy="453.5" r="1.95"/></g>
<g class="mi" shape-rendering="crispEdges"><circle cx="593.5" cy="453.5" r="1.95"/></g>
<text class="lg" x="523.2" y="458.6" textLength="50.9" lengthAdjust="spacing">observed</text>
<text class="lg" x="612.6" y="458.6" textLength="43.9" lengthAdjust="spacing">missing</text>
</svg>
</body></html>
